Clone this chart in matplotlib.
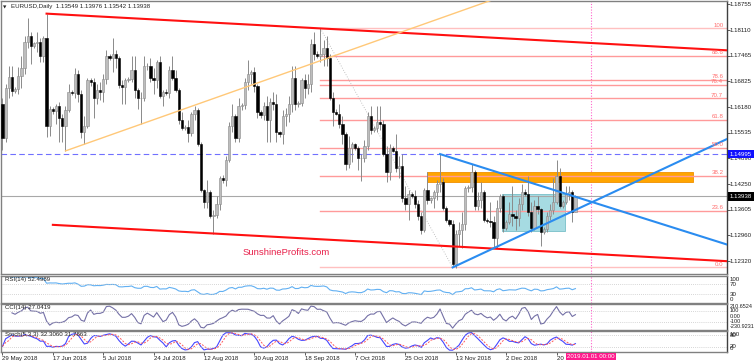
import numpy as np
import pandas as pd
from matplotlib import pyplot as plt
from matplotlib import transforms
from matplotlib.patches import Rectangle

plt.rcParams['font.family'] = ['Liberation Sans', 'DejaVu Sans']

# EURUSD daily bars (broker feed incl. short Sunday sessions), 29 May - 28 Dec 2018.
# Open of each bar = close of the bar before.
first_open = 1.1625
closes = [
    1.1540, 1.1665, 1.1693, 1.1658, 1.1662, 1.1695,
    1.1715, 1.1780, 1.1797, 1.1770, 1.1778, 1.1782,
    1.1745, 1.1792, 1.1570, 1.1612, 1.1608, 1.1620,
    1.1590, 1.1570, 1.1610, 1.1655, 1.1652, 1.1700,
    1.1650, 1.1555, 1.1570, 1.1685, 1.1680, 1.1640,
    1.1660, 1.1656, 1.1688, 1.1745, 1.1740, 1.1750,
    1.1742, 1.1672, 1.1667, 1.1685, 1.1688, 1.1712,
    1.1660, 1.1640, 1.1640, 1.1720, 1.1722, 1.1690,
    1.1685, 1.1730, 1.1645, 1.1655, 1.1652, 1.1710,
    1.1690, 1.1660, 1.1585, 1.1565, 1.1568, 1.1552,
    1.1600, 1.1610, 1.1525, 1.1410, 1.1380, 1.1405,
    1.1345, 1.1348, 1.1375, 1.1440, 1.1436, 1.1485,
    1.1570, 1.1595, 1.1540, 1.1620, 1.1622, 1.1680,
    1.1700, 1.1705, 1.1670, 1.1605, 1.1598, 1.1620,
    1.1585, 1.1630, 1.1625, 1.1555, 1.1550, 1.1595,
    1.1600, 1.1625, 1.1690, 1.1625, 1.1628, 1.1685,
    1.1665, 1.1675, 1.1775, 1.1750, 1.1745, 1.1750,
    1.1765, 1.1740, 1.1640, 1.1605, 1.1600, 1.1575,
    1.1550, 1.1475, 1.1515, 1.1525, 1.1515, 1.1490,
    1.1490, 1.1520, 1.1595, 1.1560, 1.1565, 1.1580,
    1.1575, 1.1500, 1.1455, 1.1515, 1.1508, 1.1465,
    1.1470, 1.1390, 1.1375, 1.1400, 1.1395, 1.1375,
    1.1345, 1.1310, 1.1410, 1.1385, 1.1390, 1.1405,
    1.1425, 1.1430, 1.1365, 1.1335, 1.1325, 1.1225,
    1.1300, 1.1310, 1.1325, 1.1415, 1.1418, 1.1455,
    1.1370, 1.1385, 1.1405, 1.1335, 1.1332, 1.1330,
    1.1290, 1.1365, 1.1395, 1.1315, 1.1330, 1.1350,
    1.1345, 1.1340, 1.1375, 1.1405, 1.1400, 1.1355,
    1.1315, 1.1370, 1.1362, 1.1305, 1.1312, 1.1345,
    1.1360, 1.1380, 1.1445, 1.1370, 1.1380, 1.1400,
    1.1405, 1.1355, 1.13938,
]
highs = [
    1.1640, 1.1675, 1.1720, 1.1720, 1.1668, 1.1718,
    1.1745, 1.1795, 1.1840, 1.1805, 1.1782, 1.1805,
    1.1790, 1.1795, 1.1852, 1.1620, 1.1618, 1.1625,
    1.1630, 1.1600, 1.1620, 1.1675, 1.1660, 1.1715,
    1.1710, 1.1660, 1.1595, 1.1690, 1.1690, 1.1690,
    1.1675, 1.1680, 1.1700, 1.1760, 1.1752, 1.1790,
    1.1760, 1.1745, 1.1685, 1.1690, 1.1692, 1.1745,
    1.1745, 1.1665, 1.1655, 1.1745, 1.1728, 1.1740,
    1.1715, 1.1735, 1.1745, 1.1660, 1.1662, 1.1720,
    1.1745, 1.1710, 1.1665, 1.1605, 1.1572, 1.1585,
    1.1605, 1.1620, 1.1615, 1.1530, 1.1412, 1.1435,
    1.1410, 1.1360, 1.1395, 1.1445, 1.1448, 1.1495,
    1.1580, 1.1625, 1.1600, 1.1640, 1.1628, 1.1690,
    1.1735, 1.1710, 1.1718, 1.1675, 1.1610, 1.1630,
    1.1645, 1.1640, 1.1655, 1.1650, 1.1558, 1.1610,
    1.1615, 1.1645, 1.1720, 1.1720, 1.1632, 1.1690,
    1.1700, 1.1700, 1.1788, 1.1805, 1.1758, 1.1815,
    1.1785, 1.1795, 1.1750, 1.1655, 1.1612, 1.1625,
    1.1595, 1.1555, 1.1545, 1.1530, 1.1528, 1.1520,
    1.1500, 1.1535, 1.1605, 1.1620, 1.1570, 1.1620,
    1.1620, 1.1585, 1.1520, 1.1525, 1.1520, 1.1550,
    1.1495, 1.1500, 1.1420, 1.1410, 1.1405, 1.1410,
    1.1385, 1.1355, 1.1415, 1.1455, 1.1392, 1.1410,
    1.1435, 1.1500, 1.1440, 1.1370, 1.1338, 1.1335,
    1.1310, 1.1330, 1.1355, 1.1420, 1.1422, 1.1475,
    1.1460, 1.1405, 1.1430, 1.1410, 1.1340, 1.1380,
    1.1345, 1.1385, 1.1400, 1.1400, 1.1335, 1.1380,
    1.1420, 1.1360, 1.1390, 1.1425, 1.1412, 1.1445,
    1.1380, 1.1385, 1.1395, 1.1365, 1.1318, 1.1355,
    1.1375, 1.1440, 1.1486, 1.1465, 1.1385, 1.1420,
    1.1420, 1.1410, 1.13976,
]
lows = [
    1.1510, 1.1530, 1.1640, 1.1645, 1.1652, 1.1650,
    1.1665, 1.1700, 1.1765, 1.1725, 1.1765, 1.1755,
    1.1730, 1.1730, 1.1542, 1.1545, 1.1600, 1.1575,
    1.1530, 1.1530, 1.1508, 1.1605, 1.1648, 1.1640,
    1.1630, 1.1540, 1.1525, 1.1565, 1.1670, 1.1590,
    1.1625, 1.1635, 1.1630, 1.1675, 1.1735, 1.1705,
    1.1715, 1.1665, 1.1625, 1.1625, 1.1680, 1.1680,
    1.1640, 1.1612, 1.1575, 1.1632, 1.1712, 1.1680,
    1.1650, 1.1665, 1.1640, 1.1620, 1.1648, 1.1640,
    1.1685, 1.1655, 1.1575, 1.1560, 1.1560, 1.1530,
    1.1545, 1.1585, 1.1520, 1.1405, 1.1365, 1.1365,
    1.1340, 1.1301, 1.1340, 1.1360, 1.1428, 1.1420,
    1.1480, 1.1555, 1.1530, 1.1530, 1.1610, 1.1612,
    1.1660, 1.1675, 1.1655, 1.1590, 1.1590, 1.1585,
    1.1530, 1.1530, 1.1610, 1.1530, 1.1542, 1.1525,
    1.1570, 1.1580, 1.1605, 1.1610, 1.1618, 1.1620,
    1.1640, 1.1650, 1.1655, 1.1735, 1.1740, 1.1730,
    1.1722, 1.1722, 1.1635, 1.1570, 1.1598, 1.1565,
    1.1525, 1.1460, 1.1465, 1.1480, 1.1510, 1.1460,
    1.1432, 1.1480, 1.1510, 1.1550, 1.1555, 1.1555,
    1.1560, 1.1495, 1.1430, 1.1435, 1.1505, 1.1455,
    1.1440, 1.1380, 1.1360, 1.1335, 1.1390, 1.1365,
    1.1335, 1.1300, 1.1305, 1.1375, 1.1378, 1.1365,
    1.1385, 1.1405, 1.1360, 1.1330, 1.1320, 1.1216,
    1.1215, 1.1270, 1.1265, 1.1310, 1.1405, 1.1405,
    1.1360, 1.1360, 1.1365, 1.1330, 1.1328, 1.1318,
    1.1265, 1.1265, 1.1355, 1.1305, 1.1310, 1.1325,
    1.1320, 1.1310, 1.1320, 1.1360, 1.1395, 1.1345,
    1.1305, 1.1310, 1.1350, 1.1270, 1.1300, 1.1305,
    1.1335, 1.1350, 1.1375, 1.1365, 1.1365, 1.1375,
    1.1385, 1.1330, 1.13542,
]

date_labels = ['29 May 2018', '17 Jun 2018', '5 Jul 2018', '24 Jul 2018', '12 Aug 2018',
               '30 Aug 2018', '18 Sep 2018', '7 Oct 2018', '25 Oct 2018', '13 Nov 2018',
               '2 Dec 2018', '20 Dec 2018']
date_label_bars = [0, 16, 32, 48, 64, 80, 96, 112, 128, 144, 160, 176]
price_ticks = [1.18755, 1.18110, 1.17465, 1.16825, 1.16180, 1.15535,
               1.14890, 1.14250, 1.13605, 1.12960, 1.12320]

# drawn objects
fib_levels = [100, 88.6, 78.6, 76.4, 70.7, 61.8, 50.0, 38.2, 23.6, 0.0]
fib_high, fib_high_bar = 1.1815, 101
fib_low, fib_low_bar = 1.1216, 143
resistance = 1.14995
last_price = 1.13938
channel_top = [(14, 1.1852), (101, 1.1815)]
channel_bottom_anchor = (67, 1.1301)
channel_bottom_start = 16
orange_line = [(20, 1.1508), (44, 1.1575)]
triangle_top = [(139, 1.1500), (176, 1.1408)]
triangle_bottom = [(143, 1.1216), (156, 1.1264)]
orange_zone = (134.9, 219.5, 1.1429, 1.1456)
blue_zone = (158.8, 178.6, 1.1308, 1.1400)
new_year_bar = 187

rsi_label = 'RSI(14) 52.4989'
cci_label = 'CCI(14) 27.0419'
stoch_label = 'Stoch(5,3,3) 32.3060 31.7863'
title = 'EURUSD,Daily  1.13549 1.13976 1.13542 1.13938'

# indicators from the bars
c = pd.Series(closes)
h = pd.Series(highs)
l = pd.Series(lows)
o = pd.Series([first_open] + closes[:-1])
delta = c.diff()
gain = delta.clip(lower=0).ewm(alpha=1 / 14, adjust=False).mean()
loss = (-delta.clip(upper=0)).ewm(alpha=1 / 14, adjust=False).mean()
rsi = 100 - 100 / (1 + gain / loss)
tp = (h + l + c) / 3
md = tp.rolling(14, min_periods=4).apply(lambda x: np.mean(np.abs(x - x.mean())), raw=True)
cci = (tp - tp.rolling(14, min_periods=4).mean()) / (0.015 * md)
ll = l.rolling(5, min_periods=1).min()
hh = h.rolling(5, min_periods=1).max()
stoch_k = 100 * (c - ll).rolling(3, min_periods=1).sum() / (hh - ll).rolling(3, min_periods=1).sum()
stoch_d = stoch_k.rolling(3, min_periods=1).mean()

W, H = 755, 363
fig = plt.figure(figsize=(W / 100, H / 100), dpi=100)


def add_panel(top, bottom):
    a = fig.add_axes([0.5 / W, 1 - bottom / H, 726.5 / W, (bottom - top) / H])
    a.set_xlim(-0.635, 230.16)
    a.set_xticks([])
    a.set_yticks([])
    for s in a.spines.values():
        s.set_color('#808080')
        s.set_linewidth(1.0)
    a.spines['right'].set_color('#404040')
    a.axvline(new_year_bar, color='#ff66cc', lw=0.8, ls=(0, (1, 1.5)), zorder=1)
    return a


ax = add_panel(1, 274)
ax_rsi = add_panel(275.5, 302.5)
ax_cci = add_panel(303.5, 330)
ax_sto = add_panel(330.5, 351.5)
ax.set_ylim(1.11995, 1.18837)
ax_rsi.set_ylim(-2, 104)
ax_cci.set_ylim(-245, 225)
ax_sto.set_ylim(-4, 106)

fs = 4.4
right_x = 1.004


def right_labels(a, values, labels, vas=None, size=fs):
    tr = transforms.blended_transform_factory(a.transAxes, a.transData)
    for i, (v, t) in enumerate(zip(values, labels)):
        va = vas[i] if vas else 'center'
        a.text(right_x, v, t, transform=tr, fontsize=size, va=va, ha='left', color='#202020')


def line_at(pts, x):
    (x0, y0), (x1, y1) = pts
    return y0 + (y1 - y0) * (x - x0) / (x1 - x0)


xr = 230.16
# background zones
x0, x1, y0, y1 = orange_zone
ax.add_patch(Rectangle((x0, y0), x1 - x0, y1 - y0, fc='#ffa500', ec='#f09000', lw=0.6, zorder=1))
x0, x1, y0, y1 = blue_zone
ax.add_patch(Rectangle((x0, y0), x1 - x0, y1 - y0, fc='#a6dbe2', ec='#78bfc8', lw=0.6, zorder=1))

# horizontal lines
ax.axhline(resistance, color='#7070ff', lw=0.8, ls=(0, (5, 3)), zorder=2)
ax.axhline(last_price, color='#a8a8a8', lw=0.8, zorder=2)

# fibonacci retracement
for lv in fib_levels:
    p = fib_low + lv / 100 * (fib_high - fib_low)
    col = '#ffc0c0' if lv in (0.0, 100) else '#ff9a9a'
    ax.plot([fib_high_bar, xr], [p, p], color=col, lw=1.0, zorder=2)
    ax.text(xr - 1.2, p + 0.0002, f'{lv:.1f}' if lv != 100 else '100', fontsize=fs,
            color='#ff6f6f', ha='right', va='bottom', zorder=6)
ax.plot([fib_high_bar, fib_low_bar], [fib_high, fib_low], color='#b0b0b0', lw=0.6, ls=(0, (1, 2)), zorder=2)

# candles
idx = np.arange(len(closes))
up = c >= o
ax.vlines(idx, l, h, color='#8a8a8a', lw=0.7, zorder=3)
body_lo = np.minimum(o, c)
body_h = np.maximum(np.abs(c - o), 0.00012)
ax.bar(idx[up], body_h[up], bottom=body_lo[up], width=0.72, color='#bdbdbd',
       edgecolor='#8a8a8a', lw=0.4, zorder=4)
ax.bar(idx[~up], body_h[~up], bottom=body_lo[~up], width=0.72, color='#000000',
       edgecolor='#000000', lw=0.4, zorder=4)

# trend lines
ax.plot([channel_top[0][0], xr], [channel_top[0][1], line_at(channel_top, xr)],
        color='#ff1010', lw=1.5, zorder=5)
dy = channel_bottom_anchor[1] - line_at(channel_top, channel_bottom_anchor[0])
ax.plot([channel_bottom_start, xr],
        [line_at(channel_top, channel_bottom_start) + dy, line_at(channel_top, xr) + dy],
        color='#ff1010', lw=1.5, zorder=5)
ax.plot([orange_line[0][0], xr], [orange_line[0][1], line_at(orange_line, xr)],
        color='#ffc878', lw=1.0, zorder=5)
for pts in (triangle_top, triangle_bottom):
    ax.plot([pts[0][0], xr], [pts[0][1], line_at(pts, xr)], color='#2a8cf0', lw=1.5, zorder=5)

# texts
ax.text(0.004, 0.985, '\u25bc', transform=ax.transAxes, fontsize=3.2, va='top', ha='left',
        family='DejaVu Sans', color='#202020')
ax.text(0.014, 0.988, title, transform=ax.transAxes, fontsize=fs, va='top', ha='left', color='#202020')
ax.text(0.333, 0.077, 'SunshineProfits.com', transform=ax.transAxes, fontsize=6.8,
        color='#e8204a', va='center', ha='left')

# right price axis
right_labels(ax, price_ticks, [f'{p:.5f}' for p in price_ticks])
ax.yaxis.tick_right()
ax.set_yticks(price_ticks)
ax.set_yticklabels([])
ax.tick_params(axis='y', length=2, width=0.6, color='#404040')
tr = transforms.blended_transform_factory(ax.transAxes, ax.transData)
ax.text(right_x, resistance, f'{resistance:.5f}', transform=tr, fontsize=fs, va='center', color='white',
        bbox=dict(boxstyle='square,pad=0.25', fc='#1010ff', ec='none'), zorder=7)
ax.text(right_x, last_price, f'{last_price:.5f}', transform=tr, fontsize=fs, va='center', color='white',
        bbox=dict(boxstyle='square,pad=0.25', fc='#000000', ec='none'), zorder=7)

# RSI
ax_rsi.plot(idx, rsi, color='#62b0f2', lw=0.8)
for lv in (70, 30):
    ax_rsi.axhline(lv, color='#c8c8c8', lw=0.6, ls=(0, (1, 1.5)))
ax_rsi.text(0.006, 0.93, rsi_label, transform=ax_rsi.transAxes, fontsize=fs, va='top', color='#202020')
right_labels(ax_rsi, [100, 70, 30, 0], ['100', '70', '30', '0'], ['top', 'center', 'center', 'bottom'])

# CCI
ax_cci.plot(idx, cci, color='#7470a6', lw=0.8)
for lv in (100, -100):
    ax_cci.axhline(lv, color='#c8c8c8', lw=0.6, ls=(0, (1, 1.5)))
ax_cci.text(0.006, 0.93, cci_label, transform=ax_cci.transAxes, fontsize=fs, va='top', color='#202020')
right_labels(ax_cci, [210.6524, 100, 0, -100, -230.9231],
             ['210.6524', '100', '0.00', '-100', '-230.9231'],
             ['top', 'center', 'center', 'center', 'bottom'], size=4.0)

# Stochastic
ax_sto.plot(idx, stoch_k, color='#4646ff', lw=0.8)
ax_sto.plot(idx, stoch_d, color='#ff5a5a', lw=0.7, ls=(0, (2, 1.5)))
for lv in (80, 20):
    ax_sto.axhline(lv, color='#c8c8c8', lw=0.6, ls=(0, (1, 1.5)))
ax_sto.text(0.006, 0.95, stoch_label, transform=ax_sto.transAxes, fontsize=fs, va='top', color='#202020')
right_labels(ax_sto, [100, 80, 20, 0], ['100', '80', '20', '0'], ['top', 'center', 'center', 'bottom'])

# date axis
ax_sto.set_xticks(date_label_bars)
ax_sto.set_xticklabels(date_labels, fontsize=fs, ha='left', color='#202020')
ax_sto.tick_params(axis='x', length=2, width=0.6, pad=1.2, color='#404040')
trx = transforms.blended_transform_factory(ax_sto.transData, ax_sto.transAxes)
ax_sto.text(new_year_bar, -0.12, '2019.01.01 00:00', transform=trx, fontsize=fs, ha='center', va='top',
            color='white', bbox=dict(boxstyle='square,pad=0.2', fc='#ff1a8c', ec='none'), zorder=6)

fig.savefig('out.png', dpi=100)
plt.close(fig)
